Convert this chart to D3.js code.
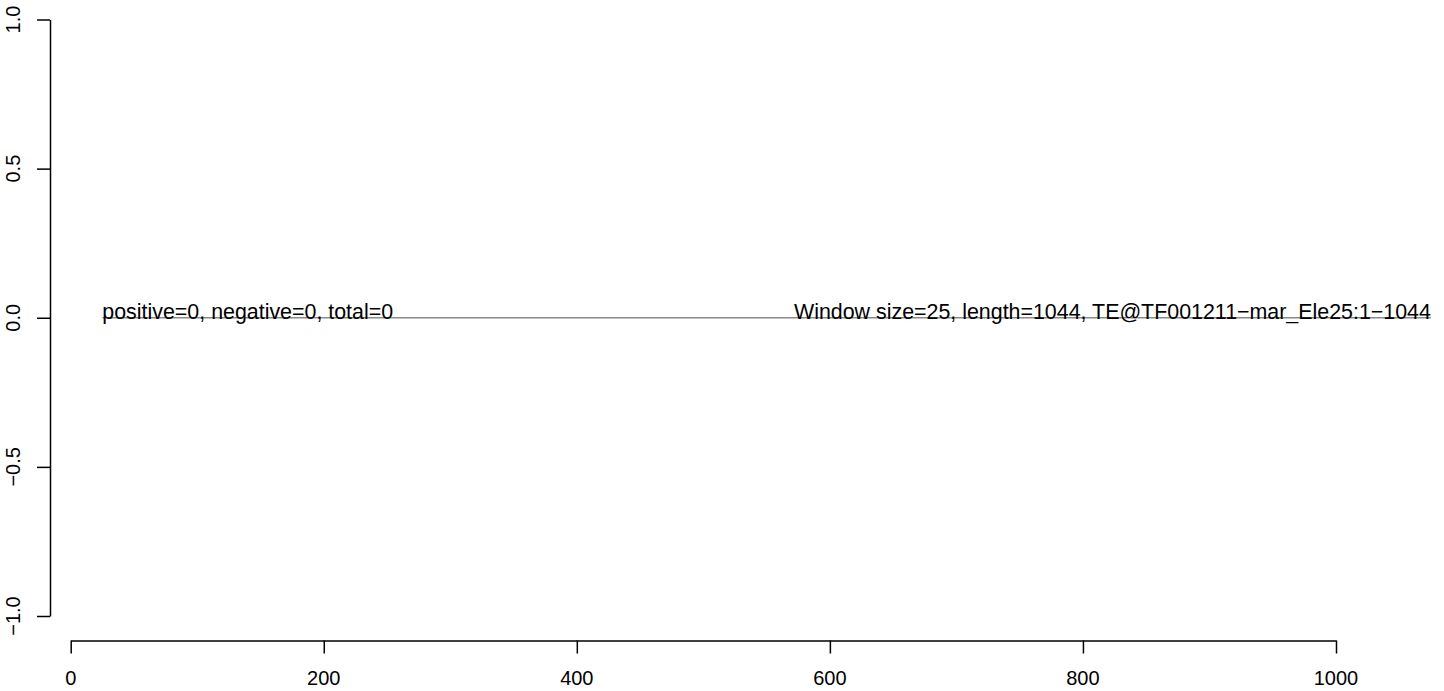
<!DOCTYPE html>
<html><head><meta charset="utf-8">
<script src="https://cdn.jsdelivr.net/npm/d3@7"></script>
<style>body{margin:0;background:#fff}svg{display:block}text{font-family:"Liberation Sans",Arial,Helvetica,sans-serif}</style>
</head><body>
<script>
// Data: window end positions (step 25) and their scores (all zero)
const windowPositions = [25,50,75,100,125,150,175,200,225,250,275,300,325,350,375,400,425,450,475,500,525,550,575,600,625,650,675,700,725,750,775,800,825,850,875,900,925,950,975,1000,1025,1050,1075];
const windowScores = [0,0,0,0,0,0,0,0,0,0,0,0,0,0,0,0,0,0,0,0,0,0,0,0,0,0,0,0,0,0,0,0,0,0,0,0,0,0,0,0,0,0,0];
const xTicks = [0,200,400,600,800,1000];
const yTicks = [-1.0,-0.5,0.0,0.5,1.0];
const leftLabel = "positive=0, negative=0, total=0";
const rightLabel = "Window size=25, length=1044, TE@TF001211\u2212mar_Ele25:1\u22121044";

const W = 1444, H = 691;
const svg = d3.select("body").append("svg").attr("width", W).attr("height", H);

const x = d3.scaleLinear().domain([0, 1000]).range([70.7, 1336]);
const y = d3.scaleLinear().domain([-1, 1]).range([616, 19.5]);
const fmtY = v => (v < 0 ? "\u2212" : "") + Math.abs(v).toFixed(1);

// Y axis (left)
const yAxis = svg.append("g").attr("transform", "translate(50,0)")
  .call(d3.axisLeft(y).tickValues(yTicks).tickSize(13).tickSizeOuter(0).tickFormat(""));
yAxis.select(".domain").attr("stroke", "#000").attr("stroke-width", 1.5);
yAxis.selectAll(".tick line").attr("stroke", "#000").attr("stroke-width", 1.5);
svg.append("g").selectAll("text").data(yTicks).join("text")
  .attr("transform", d => `translate(19.5,${y(d)}) rotate(-90)`)
  .attr("text-anchor", "middle").attr("font-size", 20).attr("fill", "#000")
  .text(fmtY);

// X axis (bottom)
const xAxis = svg.append("g").attr("transform", "translate(0,640.5)")
  .call(d3.axisBottom(x).tickValues(xTicks).tickSize(13).tickSizeOuter(0).tickFormat(""));
xAxis.select(".domain").attr("stroke", "#000").attr("stroke-width", 1.5);
xAxis.selectAll(".tick line").attr("stroke", "#000").attr("stroke-width", 1.5);
svg.append("g").selectAll("text").data(xTicks).join("text")
  .attr("x", d => x(d)).attr("y", 685)
  .attr("text-anchor", "middle").attr("font-size", 20).attr("fill", "#000")
  .text(d => d);

// Score line
const pts = windowPositions.map((p, i) => [p, windowScores[i]]);
svg.append("path").datum(pts)
  .attr("fill", "none").attr("stroke", "#8a8a8a").attr("stroke-width", 1.3)
  .attr("d", d3.line().x(d => x(d[0])).y(d => y(d[1])));

// Annotations
const first = windowPositions[0], last = windowPositions[windowPositions.length - 1];
svg.append("text").attr("x", x(first)).attr("y", y(0) + 1)
  .attr("text-anchor", "start").attr("font-size", 21.4).attr("fill", "#000").text(leftLabel);
svg.append("text").attr("x", x(last)).attr("y", y(0) + 1)
  .attr("text-anchor", "end").attr("font-size", 21.4).attr("fill", "#000").text(rightLabel);
</script>
</body></html>
